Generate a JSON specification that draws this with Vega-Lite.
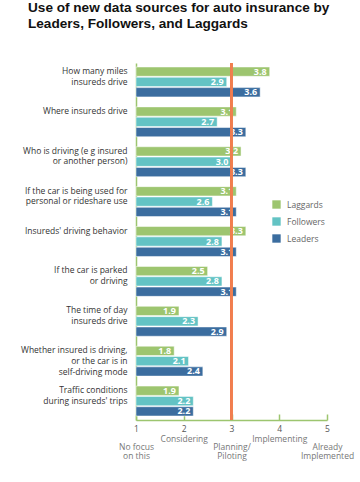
{
  "$schema": "https://vega.github.io/schema/vega-lite/v6.json",
  "autosize": {"type": "none"},
  "width": 191,
  "height": 357,
  "padding": {"left": 136, "top": 63, "right": 33, "bottom": 62},
  "background": "white",
  "title": {
    "text": ["Use of new data sources for auto insurance by", "Leaders, Followers, and Laggards"],
    "anchor": "start",
    "frame": "group",
    "dx": -108,
    "offset": 32,
    "font": "Liberation Sans",
    "fontSize": 13.6,
    "fontWeight": "bold",
    "color": "#111111",
    "lineHeight": 16
  },
  "config": {"view": {"stroke": null}},
  "resolve": {"axis": {"x": "independent"}},
  "data": {
    "values": [
      {"q": "How many miles|insureds drive", "g": "Laggards", "v": 3.8},
      {"q": "How many miles|insureds drive", "g": "Followers", "v": 2.9},
      {"q": "How many miles|insureds drive", "g": "Leaders", "v": 3.6},
      {"q": "Where insureds drive", "g": "Laggards", "v": 3.1},
      {"q": "Where insureds drive", "g": "Followers", "v": 2.7},
      {"q": "Where insureds drive", "g": "Leaders", "v": 3.3},
      {"q": "Who is driving (e g  insured|or another person)", "g": "Laggards", "v": 3.2},
      {"q": "Who is driving (e g  insured|or another person)", "g": "Followers", "v": 3.0},
      {"q": "Who is driving (e g  insured|or another person)", "g": "Leaders", "v": 3.3},
      {"q": "If the car is being used for|personal or rideshare use", "g": "Laggards", "v": 3.1},
      {"q": "If the car is being used for|personal or rideshare use", "g": "Followers", "v": 2.6},
      {"q": "If the car is being used for|personal or rideshare use", "g": "Leaders", "v": 3.1},
      {"q": "Insureds' driving behavior", "g": "Laggards", "v": 3.3},
      {"q": "Insureds' driving behavior", "g": "Followers", "v": 2.8},
      {"q": "Insureds' driving behavior", "g": "Leaders", "v": 3.1},
      {"q": "If the car is parked|or driving", "g": "Laggards", "v": 2.5},
      {"q": "If the car is parked|or driving", "g": "Followers", "v": 2.8},
      {"q": "If the car is parked|or driving", "g": "Leaders", "v": 3.1},
      {"q": "The time of day|insureds drive", "g": "Laggards", "v": 1.9},
      {"q": "The time of day|insureds drive", "g": "Followers", "v": 2.3},
      {"q": "The time of day|insureds drive", "g": "Leaders", "v": 2.9},
      {"q": "Whether insured is driving,|or the car is in |self-driving mode", "g": "Laggards", "v": 1.8},
      {"q": "Whether insured is driving,|or the car is in |self-driving mode", "g": "Followers", "v": 2.1},
      {"q": "Whether insured is driving,|or the car is in |self-driving mode", "g": "Leaders", "v": 2.4},
      {"q": "Traffic conditions|during insureds' trips", "g": "Laggards", "v": 1.9},
      {"q": "Traffic conditions|during insureds' trips", "g": "Followers", "v": 2.2},
      {"q": "Traffic conditions|during insureds' trips", "g": "Leaders", "v": 2.2}
    ]
  },
  "layer": [
    {
      "mark": {"type": "bar", "stroke": "white", "strokeWidth": 0.5},
      "encoding": {
        "y": {
          "field": "q",
          "type": "nominal",
          "sort": null,
          "scale": {"paddingInner": 0.25, "paddingOuter": 0.1},
          "axis": {
            "title": null,
            "labelExpr": "split(datum.value, '|')",
            "labelBaseline": "top",
            "labelOffset": -15,
            "labelPadding": 9,
            "labelFont": "Open Sans",
            "labelFontSize": 8.5,
            "labelColor": "#333333",
            "labelLineHeight": 10.7,
            "labelLimit": 200,
            "ticks": false,
            "domainColor": "#9dc56f",
            "domainWidth": 1.5
          }
        },
        "x": {
          "field": "v",
          "type": "quantitative",
          "scale": {"domain": [1, 5], "zero": false, "nice": false},
          "axis": {
            "orient": "bottom",
            "title": null,
            "values": [1, 2, 3, 4, 5],
            "labelFont": "Open Sans",
            "labelFontSize": 8.5,
            "labelColor": "#555555",
            "labelBaseline": "top",
            "labelPadding": 10,
            "labelFlush": false,
            "labelOverlap": false,
            "grid": false,
            "domainColor": "#9dc56f",
            "domainWidth": 1.5,
            "tickColor": "#9dc56f",
            "tickWidth": 1.5,
            "tickSize": -6
          }
        },
        "x2": {"datum": 1},
        "yOffset": {"field": "g", "type": "nominal", "sort": ["Laggards", "Followers", "Leaders"], "scale": {"paddingInner": 0.1}},
        "color": {
          "field": "g",
          "type": "nominal",
          "sort": ["Laggards", "Followers", "Leaders"],
          "scale": {"domain": ["Laggards", "Followers", "Leaders"], "range": ["#9dc56f", "#63c3c4", "#3b6d9f"]},
          "legend": {
            "title": null,
            "orient": "none",
            "legendX": 136,
            "legendY": 137,
            "symbolType": "square",
            "symbolSize": 70,
            "symbolStrokeWidth": 0,
            "rowPadding": 8,
            "labelFont": "Open Sans",
            "labelFontSize": 8.5,
            "labelColor": "#666666",
            "labelOffset": 6
          }
        }
      }
    },
    {
      "mark": {"type": "text", "align": "right", "baseline": "middle", "dx": -3, "font": "Open Sans", "fontSize": 9, "fontWeight": "bold", "color": "white"},
      "encoding": {
        "y": {"field": "q", "type": "nominal", "sort": null},
        "x": {"field": "v", "type": "quantitative", "axis": null},
        "yOffset": {"field": "g", "type": "nominal", "sort": ["Laggards", "Followers", "Leaders"]},
        "text": {"field": "v", "type": "quantitative", "format": ".1f"}
      }
    },
    {
      "mark": {"type": "rule", "color": "#f07f4f", "strokeWidth": 1.3},
      "encoding": {
        "x": {
          "datum": 3,
          "type": "quantitative",
          "axis": {
            "orient": "bottom",
            "title": null,
            "values": [1, 2, 3, 4, 5],
            "labelExpr": "datum.value == 1 ? ['No focus', 'on this'] : datum.value == 2 ? 'Considering' : datum.value == 3 ? ['Planning/', 'Piloting'] : datum.value == 4 ? 'Implementing' : ['Already', 'Implemented']",
            "labelFont": "Open Sans",
            "labelFontSize": 8.5,
            "labelColor": "#777777",
            "labelBaseline": "top",
            "labelLineHeight": 9.7,
            "labelPadding": {"condition": {"test": "datum.value == 2 || datum.value == 4", "value": 14}, "value": 22},
            "labelFlush": false,
            "labelOverlap": false,
            "grid": false,
            "domain": false,
            "ticks": false,
            "tickSize": 0
          }
        }
      }
    }
  ]
}
